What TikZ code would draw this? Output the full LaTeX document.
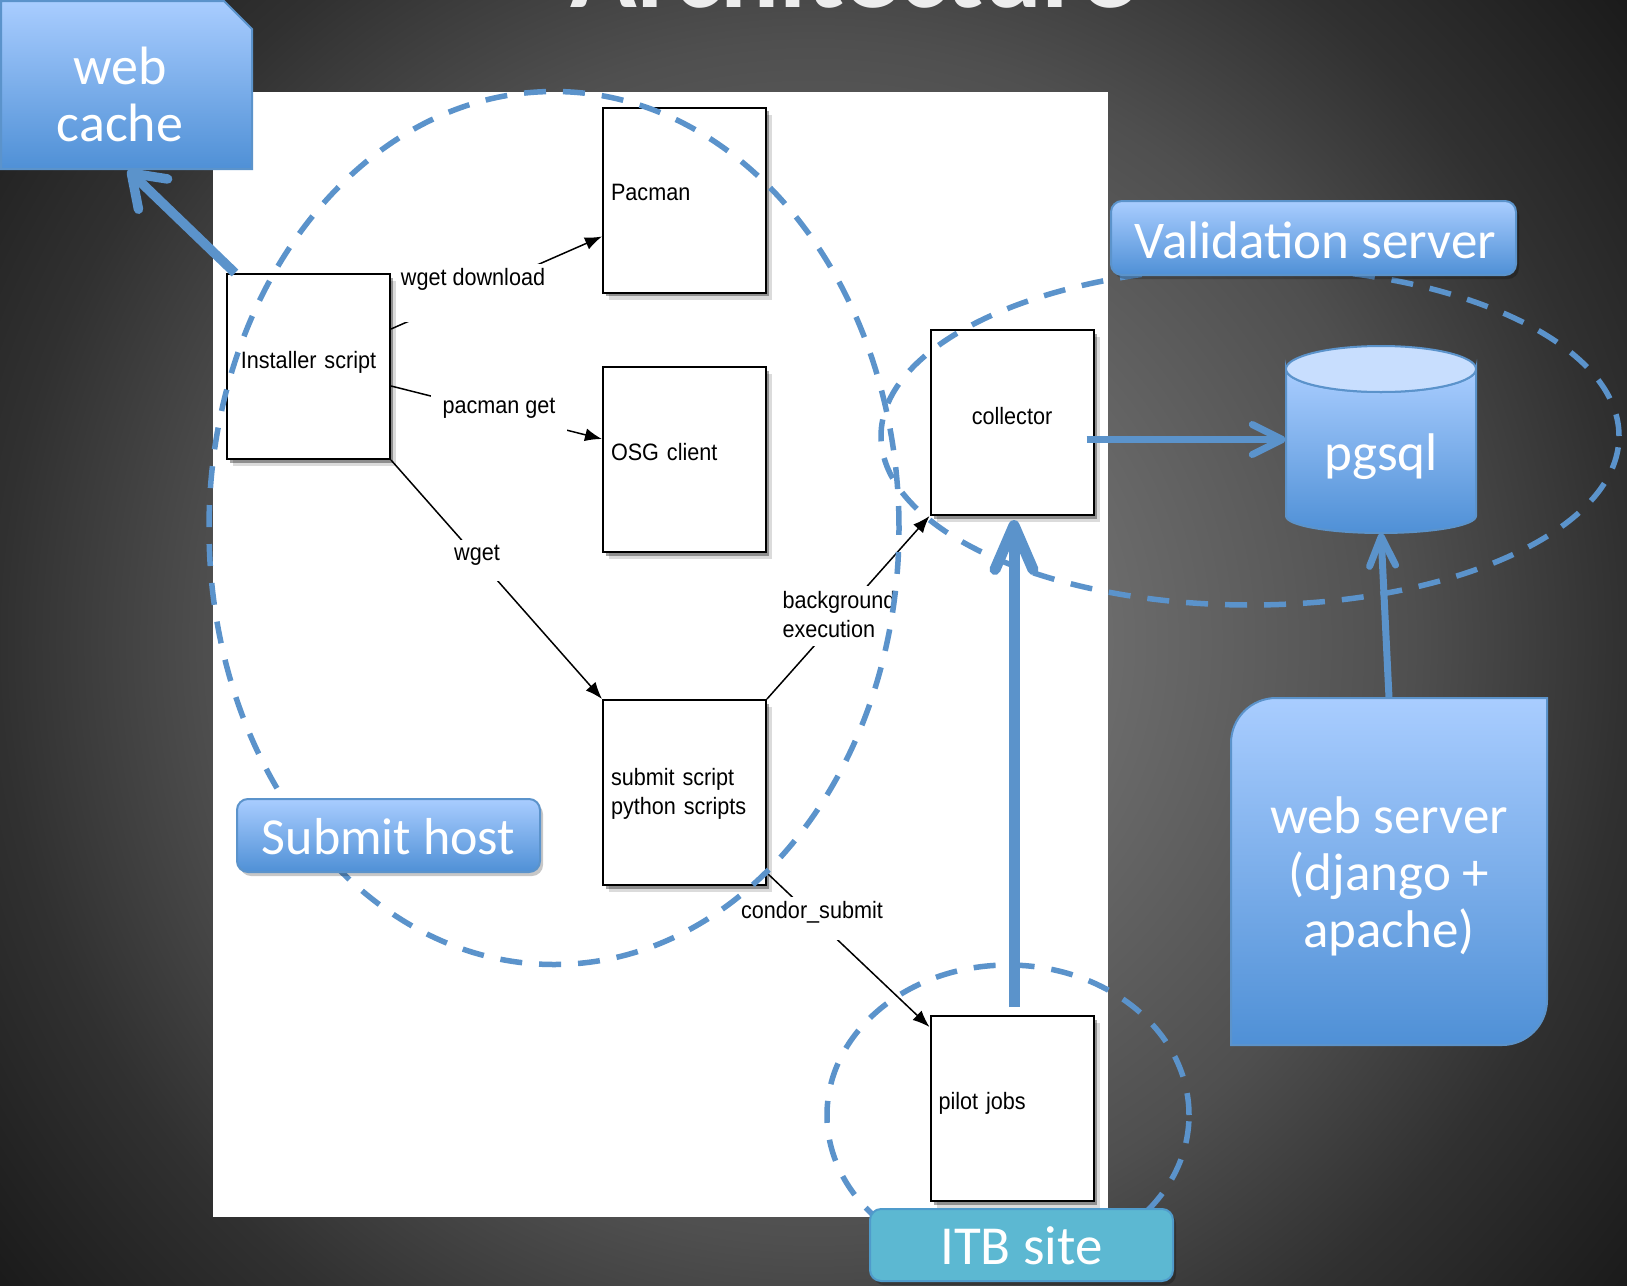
\documentclass[tikz,border=0pt]{standalone}
\usepackage{fontspec}
\usetikzlibrary{arrows.meta,shapes.geometric,shadows}
\newfontfamily\helv[FakeStretch=0.912]{Liberation Sans}
\newfontfamily\slidefont{Carlito}
\newcommand{\liftl}[2]{\raisebox{#1pt}[0pt][0pt]{\begin{tabular}[t]{@{}l@{}}#2\end{tabular}}}
\newcommand{\liftc}[2]{\raisebox{#1pt}[0pt][0pt]{\begin{tabular}[t]{@{}c@{}}#2\end{tabular}}}
\definecolor{blueline}{HTML}{5B93CB}
\definecolor{gradtop}{HTML}{A9CDFF}
\definecolor{gradbot}{HTML}{4F90D6}
\definecolor{itbfill}{HTML}{5CB8D2}
\definecolor{itbline}{HTML}{4F9BCB}
\definecolor{captop}{HTML}{C8DEFE}
\pgfdeclareradialshading{bgglow}{\pgfpointorigin}{%
  rgb(0bp)=(.50,.50,.50);
  rgb(7bp)=(.42,.42,.42);
  rgb(14.3bp)=(.31,.31,.31);
  rgb(19.4bp)=(.19,.19,.19);
  rgb(25bp)=(.10,.10,.10);
  rgb(50bp)=(.10,.10,.10)}
\tikzset{
  x=1pt,y=-1pt,
  stepbox/.style={draw=black,line width=2pt,fill=white,rectangle,minimum width=163pt,minimum height=185pt,
    inner sep=0pt,text width=147pt,font=\helv\fontsize{23.7}{29}\selectfont,
    drop shadow={shadow xshift=6pt,shadow yshift=-7pt,opacity=.14,fill=black},
    drop shadow={shadow xshift=3pt,shadow yshift=-3.5pt,opacity=.35,fill=black}},
  edgelabel/.style={fill=white,inner sep=0pt,font=\helv\fontsize{23.7}{29}\selectfont},
  thinarrow/.style={draw=black,line width=1.5pt,-{Latex[length=17pt,width=13pt]}},
  groupring/.style={ellipse,draw=blueline,line width=5.5pt,dash pattern=on 22pt off 17pt,inner sep=0pt},
  slidetext/.style={text=white,font=\slidefont\fontsize{53}{57}\selectfont,inner sep=0pt},
  tag/.style={slidetext,rectangle,rounded corners=11pt,line width=2pt,draw=blueline,top color=gradtop,bottom color=gradbot,
    drop shadow={shadow xshift=3pt,shadow yshift=-4pt,opacity=.22,fill=black}},
  flow/.style={draw=blueline,line width=#1},
}
\begin{document}
\begin{tikzpicture}
\useasboundingbox (0,0) rectangle (1627,1285);
\clip (0,0) rectangle (1627,1285);
\shade[shading=bgglow] (-235,-406) rectangle (1861,1690);
\node[anchor=base,text=white!93!black,inner sep=0pt,font=\slidefont\bfseries\fontsize{110}{120}\selectfont] (title) at (853,7) {Architecture};
\fill[white] (213,92) rectangle (1108,1217);

% diagram boxes
\node[stepbox,align=center] (inst) at (308.5,366.5) {\liftc{-1.5}{Installer script}};
\node[stepbox,align=left] (pacman) at (684.5,200) {\liftl{0}{Pacman}};
\node[stepbox,align=left] (osg) at (684.5,459.5) {\liftl{-0.5}{OSG client}};
\node[stepbox,align=left] (submit) at (684.5,792.5) {\liftl{7.5}{submit script\\python scripts}};
\node[stepbox,align=center] (coll) at (1012,422.5) {\liftc{-1.5}{collector}};
\node[stepbox,align=left] (pilot) at (1012,1108.5) {\liftl{-0.5}{pilot jobs}};

% connectors with their interrupting labels
\draw[thinarrow] ([yshift=-56pt]inst.north east) -- ([yshift=-130pt]pacman.north west);
\node[edgelabel,minimum width=155pt,minimum height=58pt] (l1) at (473,293) {\raisebox{8pt}[0pt][0pt]{wget download}};
\draw[thinarrow] ([yshift=-113pt]inst.north east) -- ([yshift=-73pt]osg.north west);
\node[edgelabel,minimum width=136pt,minimum height=40pt] (l2) at (499,415) {\raisebox{2pt}[0pt][0pt]{pacman get}};
\draw[thinarrow] (inst.south east) -- (submit.north west);
\node[edgelabel,minimum width=54pt,minimum height=41pt] (l3) at (477,560.5) {\raisebox{0pt}[0pt][0pt]{wget}};
\draw[thinarrow] (submit.north east) -- (coll.south west);
\node[edgelabel,minimum width=120pt,minimum height=60pt] (l4) at (839,616) {\liftl{8}{background\\execution}};
\draw[thinarrow] ([yshift=13pt]submit.south east) -- ([yshift=-12pt]pilot.north west);
\node[edgelabel,minimum width=148pt,minimum height=43pt] (l5) at (812,918) {\raisebox{-0.5pt}[0pt][0pt]{condor\_submit}};

% dashed group rings
\node[groupring,minimum width=690pt,minimum height=873pt] (ringsubmit) at (554,528) {};
\node[groupring,minimum width=738pt,minimum height=338pt] (ringval) at (1250,436) {};
\node[groupring,minimum width=362pt,minimum height=300pt] (ringitb) at (1008,1115) {};

% web cache
\shade[top color=gradtop,bottom color=gradbot,draw=blueline,line width=2pt]
  (1,1) -- (224,1) -- (252,29) -- (252,169) -- (1,169) -- cycle;
\node[slidetext,minimum width=251pt,minimum height=168pt,align=center,font=\slidefont\fontsize{54}{57}\selectfont] (cache) at (120,85) {\liftc{1}{web\\cache}};
\coordinate (cachein) at (128,170);

% pgsql cylinder
\shade[top color=gradtop,bottom color=gradbot,draw=blueline,line width=2pt]
  (1286,369) -- (1286,516) arc[start angle=180,end angle=360,x radius=95pt,y radius=17pt] -- (1476,369)
  arc[start angle=360,end angle=180,x radius=95pt,y radius=23pt] -- cycle;
\draw[fill=captop,draw=blueline,line width=2pt] (1381,369) ellipse[x radius=95pt,y radius=23pt];
\node[slidetext,minimum width=190pt,minimum height=187pt] (pgsql) at (1381,439.5) {\raisebox{-30.5pt}[0pt][0pt]{pgsql}};

% web server
\shade[top color=gradtop,bottom color=gradbot,draw=blueline,line width=2pt]
  (1231,1045) -- (1231,743) arc[start angle=180,end angle=90,radius=45pt] -- (1547,698) -- (1547,1000)
  arc[start angle=0,end angle=-90,radius=45pt] -- cycle;
\node[slidetext,minimum width=316pt,minimum height=347pt,align=center] (websrv) at (1389,871.5) {\liftc{38}{web server\\(django +\\apache)}};

% blue flows
\draw[flow=9.5pt,-{Straight Barb[length=30pt,width=42pt,round]}] ([xshift=9pt]inst.north west) -- (cachein);
\draw[flow=7pt,-{Straight Barb[length=30pt,width=30pt,round]}] ([xshift=-8pt,yshift=-17pt]coll.east) -- (pgsql.west);
\draw[flow=7pt,-{Straight Barb[length=29pt,width=26pt,round]}] (websrv.north) -- (pgsql.south);
\draw[flow=11pt,-{Straight Barb[length=44pt,width=38pt,round]}] ([xshift=2pt,yshift=8pt]pilot.north) -- ([xshift=2pt,yshift=-4pt]coll.south);

% group tags
\node[tag,minimum width=405pt,minimum height=74pt] (tagval) at (1313.5,238) {\hspace{4pt}\raisebox{-20pt}[0pt][0pt]{Validation server}};
\node[tag,font=\slidefont\fontsize{52}{57}\selectfont,minimum width=303pt,minimum height=73pt] (tagsub) at (388.5,835.5) {\raisebox{-19pt}[0pt][0pt]{Submit host}};
\node[tag,font=\slidefont\fontsize{55}{57}\selectfont,draw=itbline,top color=itbfill,bottom color=itbfill,minimum width=303pt,minimum height=72pt] (tagitb) at (1021.5,1245) {\raisebox{-19pt}[0pt][0pt]{ITB site}};
\end{tikzpicture}
\end{document}
